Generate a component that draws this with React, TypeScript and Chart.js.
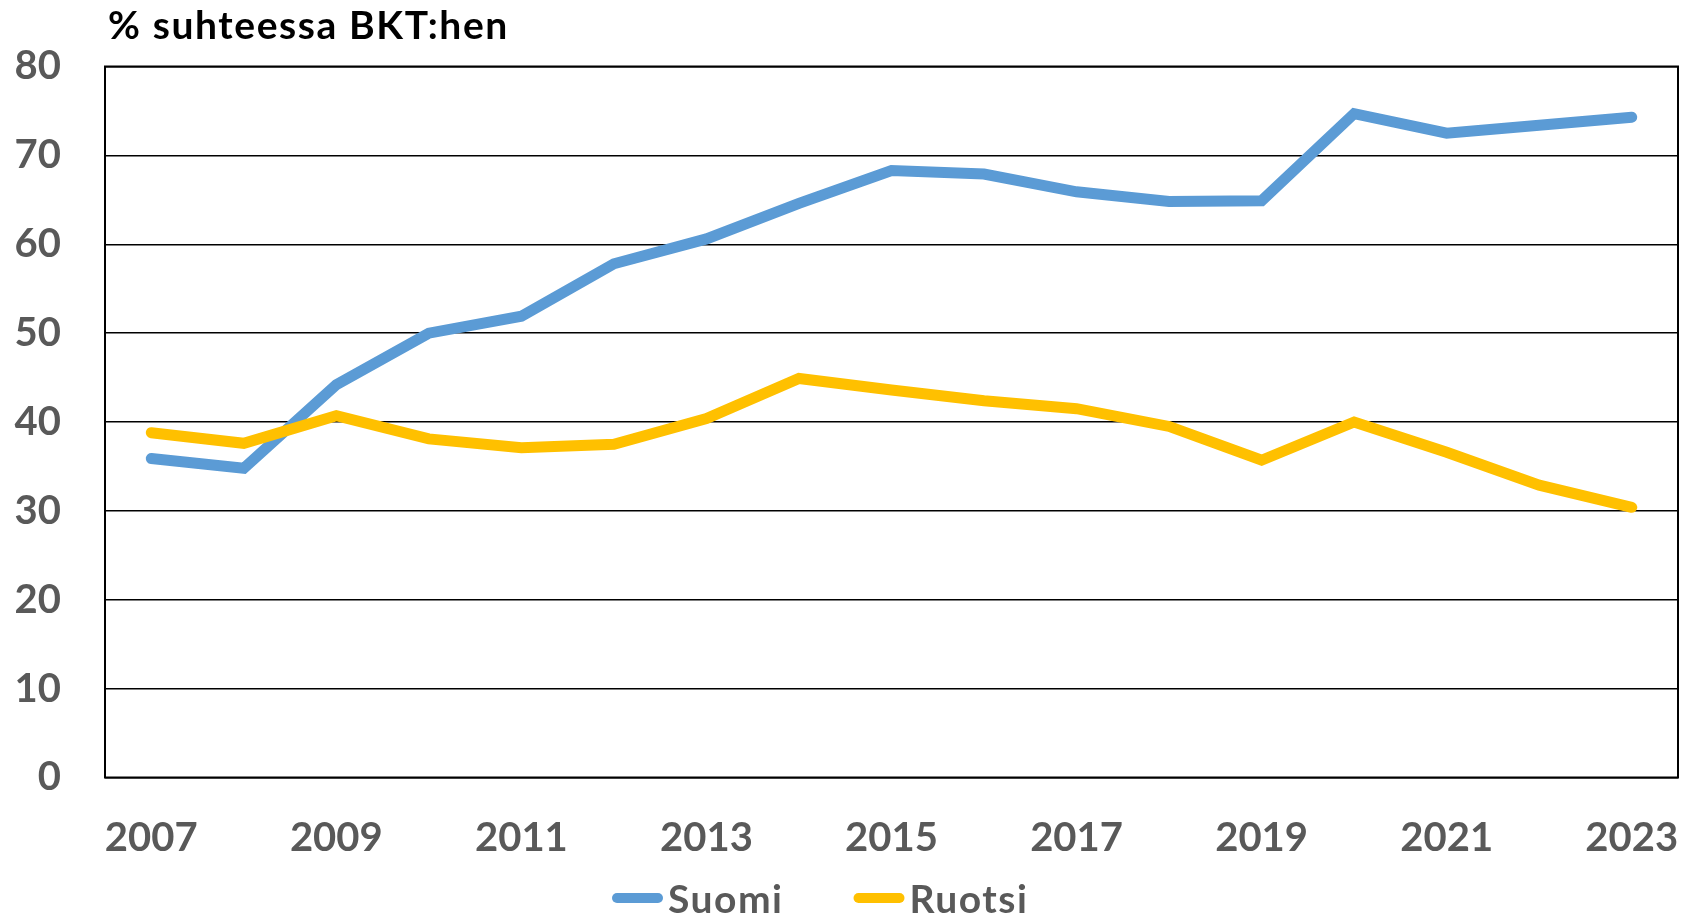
import React, { useEffect, useRef } from 'react';
import { Chart, registerables } from 'chart.js';

Chart.register(...registerables);

const years = ['2007', '2008', '2009', '2010', '2011', '2012', '2013', '2014', '2015', '2016', '2017', '2018', '2019', '2020', '2021', '2022', '2023'];
const suomi = [35.9, 34.8, 44.2, 50.0, 51.9, 57.8, 60.6, 64.6, 68.3, 67.9, 65.9, 64.8, 64.9, 74.7, 72.5, 73.4, 74.3];
const ruotsi = [38.8, 37.6, 40.7, 38.1, 37.1, 37.5, 40.4, 44.9, 43.6, 42.4, 41.5, 39.5, 35.7, 40.0, 36.6, 32.9, 30.4];
const seriesNames = ['Suomi', 'Ruotsi'];
const seriesColors = ['#5B9BD5', '#FFC000'];
const titleText = '% suhteessa BKT:hen';
const yMin = 0;
const yMax = 80;
const yStep = 10;

const FONT = 'Lato, "Open Sans", sans-serif';
const TICK_COLOR = '#595959';

const framePlugin = {
  id: 'frame',
  beforeDatasetsDraw(chart: any) {
    const { ctx, chartArea } = chart;
    ctx.save();
    ctx.strokeStyle = '#000';
    ctx.lineWidth = 2;
    ctx.strokeRect(chartArea.left, chartArea.top, chartArea.right - chartArea.left, chartArea.bottom - chartArea.top);
    ctx.restore();
  },
};

const titlePlugin = {
  id: 'customTitle',
  afterDraw(chart: any) {
    const { ctx, chartArea } = chart;
    ctx.save();
    ctx.font = `bold 39px ${FONT}`;
    ctx.letterSpacing = '1.6px';
    ctx.fillStyle = '#000';
    ctx.textAlign = 'left';
    ctx.textBaseline = 'alphabetic';
    ctx.fillText(titleText, chartArea.left + 3, 38.6);
    ctx.restore();
  },
};

const legendPlugin = {
  id: 'customLegend',
  afterDraw(chart: any) {
    const { ctx } = chart;
    ctx.save();
    ctx.font = `bold 39px ${FONT}`;
    ctx.letterSpacing = '1.5px';
    let x = 612;
    const yLine = 898;
    const yText = 912.5;
    chart.data.datasets.forEach((ds: any) => {
      ctx.strokeStyle = ds.borderColor;
      ctx.lineWidth = 10;
      ctx.lineCap = 'round';
      ctx.beginPath();
      ctx.moveTo(x + 5, yLine);
      ctx.lineTo(x + 46, yLine);
      ctx.stroke();
      ctx.fillStyle = TICK_COLOR;
      ctx.textAlign = 'left';
      ctx.textBaseline = 'alphabetic';
      ctx.fillText(ds.label, x + 56, yText);
      const w = ctx.measureText(ds.label).width;
      x += 56 + w + 70;
    });
    ctx.restore();
  },
};

export default function App() {
  const canvasRef = useRef<HTMLCanvasElement | null>(null);

  useEffect(() => {
    document.body.style.margin = '0';
    const canvas = canvasRef.current;
    if (!canvas) return;
    const chart = new Chart(canvas, {
      type: 'line',
      data: {
        labels: years,
        datasets: [
          {
            label: seriesNames[0],
            data: suomi,
            borderColor: seriesColors[0],
            backgroundColor: seriesColors[0],
            borderWidth: 11,
            pointRadius: 0,
            tension: 0,
            borderCapStyle: 'round',
            borderJoinStyle: 'miter',
            order: 1,
          },
          {
            label: seriesNames[1],
            data: ruotsi,
            borderColor: seriesColors[1],
            backgroundColor: seriesColors[1],
            borderWidth: 11,
            pointRadius: 0,
            tension: 0,
            borderCapStyle: 'round',
            borderJoinStyle: 'miter',
            order: 0,
          },
        ],
      },
      options: {
        responsive: false,
        animation: false,
        devicePixelRatio: 1,
        layout: { padding: { left: 0, right: 5, top: 66.5, bottom: 0 } },
        plugins: {
          legend: { display: false },
          title: { display: false },
          tooltip: { enabled: false },
        },
        scales: {
          x: {
            type: 'category',
            offset: true,
            grid: { display: false, drawTicks: false },
            border: { display: false },
            ticks: {
              autoSkip: false,
              maxRotation: 0,
              minRotation: 0,
              padding: 37,
              color: TICK_COLOR,
              font: { family: FONT, size: 40, weight: 'bold' },
              callback: (_v: any, i: number) => (i % 2 === 0 ? years[i] : ''),
            },
            afterFit: (scale: any) => {
              scale.height = 137.5;
              scale.paddingLeft = 0;
              scale.paddingRight = 0;
            },
          },
          y: {
            min: yMin,
            max: yMax,
            ticks: {
              stepSize: yStep,
              padding: 44,
              color: TICK_COLOR,
              font: { family: FONT, size: 40, weight: 'bold' },
            },
            grid: { color: '#000', lineWidth: 1.4, drawTicks: false },
            border: { display: false },
            afterFit: (scale: any) => {
              scale.width = 105;
              scale.paddingTop = 0;
              scale.paddingBottom = 0;
            },
          },
        },
      },
      plugins: [framePlugin, titlePlugin, legendPlugin],
    });
    return () => chart.destroy();
  }, []);

  return (
    <canvas
      ref={canvasRef}
      width={1683}
      height={915}
      style={{ display: 'block', width: '1683px', height: '915px' }}
    />
  );
}
